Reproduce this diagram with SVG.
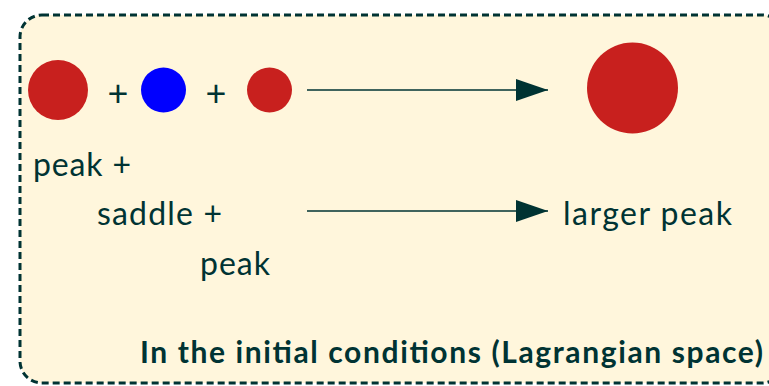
<svg xmlns="http://www.w3.org/2000/svg" width="769" height="386" viewBox="0 0 769 386">
<style>
.t{font-family:Lato,"Open Sans",sans-serif;font-size:32px;fill:#003333}
.p{font-family:Lato,"Open Sans",sans-serif;font-size:36px;fill:#003333}
.b{font-family:Lato,"Open Sans",sans-serif;font-size:30px;font-weight:bold;fill:#003333}
.red{fill:#C8201E}
.blue{fill:#0000FF}
.conn line{stroke:#003333;stroke-width:1.3}
</style>
<defs>
<marker id="ah" markerWidth="33" markerHeight="22" refX="32" refY="11" markerUnits="userSpaceOnUse" orient="auto">
<path d="M0,0 L32,11 L0,22 Z" fill="#003333"/>
</marker>
</defs>
<g id="frame">
<rect x="20" y="15" width="764" height="368" rx="22" ry="22" fill="#FFF6DC" stroke="#003333" stroke-width="3" stroke-dasharray="7,4"/>
</g>
<g id="peak1"><circle class="red" cx="58" cy="90" r="30"/></g>
<g id="plus1"><text class="p" x="118" y="106" text-anchor="middle">+</text></g>
<g id="saddle"><circle class="blue" cx="163.5" cy="90" r="22.5"/></g>
<g id="plus2"><text class="p" x="216" y="106" text-anchor="middle">+</text></g>
<g id="peak2"><circle class="red" cx="269.5" cy="90" r="22.5"/></g>
<g id="bigpeak"><circle class="red" cx="632.5" cy="88" r="45.5"/></g>
<g id="labels">
<text class="t" x="33" y="176" textLength="98" lengthAdjust="spacing">peak +</text>
<text class="t" x="97" y="225" textLength="125" lengthAdjust="spacing">saddle +</text>
<text class="t" x="200" y="275" textLength="70" lengthAdjust="spacing">peak</text>
</g>
<g id="larger"><text class="t" x="563" y="225" textLength="169" lengthAdjust="spacing">larger peak</text></g>
<g id="caption"><text class="b" x="140" y="363" textLength="623" lengthAdjust="spacing">In the initial conditions (Lagrangian space)</text></g>
<g class="conn" id="connectors">
<line x1="307" y1="90" x2="548" y2="90" marker-end="url(#ah)"/>
<line x1="307" y1="211" x2="548" y2="211" marker-end="url(#ah)"/>
</g>
</svg>
